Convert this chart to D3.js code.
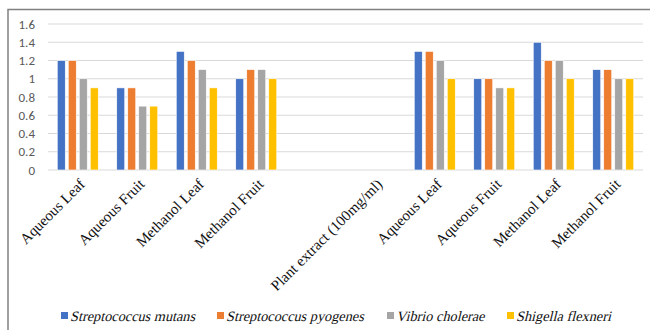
<!DOCTYPE html>
<html>
<head>
<meta charset="utf-8">
<script src="https://cdn.jsdelivr.net/npm/d3@7/dist/d3.min.js"></script>
<style>
  html, body { margin: 0; padding: 0; background: #fff; }
  svg { display: block; }
</style>
</head>
<body>
<svg id="chart" width="650" height="330"></svg>
<script>
// Extract groups along the x axis (blank slots keep the gap before the second set)
const categories = [
  "Aqueous Leaf", "Aqueous Fruit", "Methanol Leaf", "Methanol Fruit",
  "", "Plant extract (100mg/ml)",
  "Aqueous Leaf", "Aqueous Fruit", "Methanol Leaf", "Methanol Fruit"
];

const seriesNames = [
  "Streptococcus mutans",
  "Streptococcus pyogenes",
  "Vibrio cholerae",
  "Shigella flexneri"
];

// One value per category for each organism (null = no bar)
const mutans   = [1.2, 0.9, 1.3, 1.0, null, null, 1.3, 1.0, 1.4, 1.1];
const pyogenes = [1.2, 0.9, 1.2, 1.1, null, null, 1.3, 1.0, 1.2, 1.1];
const cholerae = [1.0, 0.7, 1.1, 1.1, null, null, 1.2, 0.9, 1.2, 1.0];
const flexneri = [0.9, 0.7, 0.9, 1.0, null, null, 1.0, 0.9, 1.0, 1.0];

const yTicks = [0, 0.2, 0.4, 0.6, 0.8, 1, 1.2, 1.4, 1.6];

const colors = ["#4472C4", "#ED7D31", "#A5A5A5", "#FFC000"];
const seriesValues = [mutans, pyogenes, cholerae, flexneri];

const serif = "'Liberation Serif', 'Times New Roman', serif";

const svg = d3.select("#chart");

// outer frame
svg.append("rect")
  .attr("x", 8).attr("y", 9.5)
  .attr("width", 660).attr("height", 340)
  .attr("fill", "none")
  .attr("stroke", "#808080")
  .attr("stroke-width", 1.5);

const plot = { left: 48, right: 643, top: 24, bottom: 170 };

const keys = categories.map((c, i) => i);
const x = d3.scaleBand().domain(keys).range([plot.left, plot.right]).paddingInner(0).paddingOuter(0);
const y = d3.scaleLinear().domain([0, 1.6]).range([plot.bottom, plot.top]);

// gridlines
svg.append("g")
  .selectAll("line")
  .data(yTicks)
  .join("line")
  .attr("x1", plot.left).attr("x2", plot.right)
  .attr("y1", d => y(d)).attr("y2", d => y(d))
  .attr("stroke", "#D9D9D9")
  .attr("stroke-width", 1);

// y axis labels
const yAxis = d3.axisLeft(y).tickValues(yTicks).tickSize(0).tickPadding(0)
  .tickFormat(d => d3.format("")(+d.toFixed(1)));
const yG = svg.append("g").attr("transform", `translate(${35},0)`).call(yAxis);
yG.select(".domain").remove();
yG.selectAll("text")
  .attr("font-family", "Carlito, 'Open Sans', 'Liberation Sans', sans-serif")
  .attr("font-size", 13)
  .attr("fill", "#595959");

// bars
const barW = 8, barGap = 3;
const groupW = 4 * barW + 3 * barGap;
const bars = [];
categories.forEach((c, i) => {
  seriesValues.forEach((vals, s) => {
    if (vals[i] != null) bars.push({ cat: i, s, v: vals[i] });
  });
});

svg.append("g")
  .selectAll("rect")
  .data(bars)
  .join("rect")
  .attr("x", d => x(d.cat) + x.bandwidth() / 2 - groupW / 2 + d.s * (barW + barGap))
  .attr("y", d => y(d.v))
  .attr("width", barW)
  .attr("height", d => y(0) - y(d.v))
  .attr("fill", d => colors[d.s])
  .attr("stroke", "#ffffff")
  .attr("stroke-width", 0.6);

// category labels
const xAxis = d3.axisBottom(x).tickSize(0).tickFormat(i => categories[i]);
const xG = svg.append("g").attr("transform", `translate(0,${plot.bottom})`).call(xAxis);
xG.select(".domain").remove();
xG.selectAll("text")
  .attr("font-family", serif)
  .attr("font-size", 15)
  .attr("fill", "#111")
  .attr("text-anchor", "end")
  .attr("dy", 0)
  .attr("transform", "translate(6,13) rotate(-45)");

// legend (slanted serif text)
const legendX = [61, 217, 387, 507];
const legend = svg.append("g");
seriesNames.forEach((name, s) => {
  const g = legend.append("g").attr("transform", `translate(${legendX[s]},312)`);
  g.append("rect").attr("width", 7).attr("height", 7).attr("fill", colors[s]);
  g.append("text")
    .attr("transform", "translate(9,8.5) skewX(-14)")
    .attr("font-family", serif)
    .attr("font-size", 14.3)
    .attr("fill", "#111")
    .text(name);
});
</script>
</body>
</html>
